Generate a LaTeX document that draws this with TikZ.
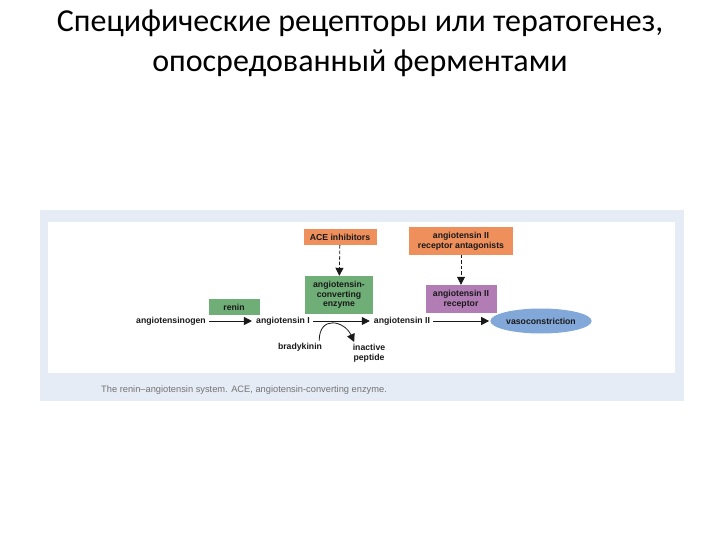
\documentclass[tikz,border=0pt]{standalone}
\usepackage{fontspec}
\setmainfont{Carlito}
\newfontfamily\diagfont{Liberation Sans}
\usetikzlibrary{arrows.meta, positioning, shapes.geometric}
\definecolor{drugorange}{HTML}{EE8F5C}
\definecolor{enzgreen}{HTML}{6FAE77}
\definecolor{recpurple}{HTML}{B27DB5}
\definecolor{vasoblue}{HTML}{82A8DA}
\definecolor{panelblue}{HTML}{E6ECF6}

\begin{document}
\begin{tikzpicture}[
      x=1pt, y=-1pt, >={Triangle[length=8pt, width=8pt]},
      lbl/.style={font=\diagfont\bfseries\fontsize{8.7}{9.6}\selectfont, text=black!90, align=center, inner sep=1pt},
      box/.style={lbl, rectangle},
      drug/.style={box, fill=drugorange},
      enz/.style={box, fill=enzgreen},
      line/.style={draw, thick, ->, color=black!90, shorten <=2pt, shorten >=3pt},
      inhib/.style={draw, thick, ->, color=black!90, dash pattern=on 3.5pt off 2pt}
    ]
    \useasboundingbox (0,0) rectangle (720,540);
    % Title
    \node[font=\fontsize{32}{40}\selectfont, align=center] (title) at (360,43)
      {Специфические рецепторы или тератогенез,\\опосредованный ферментами};

    % Panels
    \fill[panelblue] (40,210) rectangle (684,401);
    \fill[white] (48,222) rectangle (675,373);

    % Nodes
    \node[drug, minimum width=73pt, minimum height=16pt] (acei) at (340,237) {ACE inhibitors};
    \node[enz, minimum width=68pt, minimum height=38pt] (ace) at (339,295) {angiotensin-\\converting\\enzyme};
    \node[drug, minimum width=104pt, minimum height=27pt] (arb) at (461,241) {angiotensin II\\receptor antagonists};
    \node[box, fill=recpurple, minimum width=71pt, minimum height=28pt] (at2r) at (461,299) {angiotensin II\\receptor};
    \node[enz, minimum width=51pt, minimum height=16pt] (renin) at (234,307) {renin};
    \node[lbl] (agen) at (171,321) {angiotensinogen};
    \node[lbl] (ang1) at (283,321) {angiotensin I};
    \node[lbl] (ang2) at (402,321) {angiotensin II};
    \node[lbl, ellipse, fill=vasoblue, minimum width=94pt, minimum height=25pt] (vaso) at (541,321) {vasoconstriction};
    \node[lbl] (brady) at (300,347) {bradykinin};
    \node[lbl] (pept) at (369,353) {inactive\\peptide};

    % Pathway
    \draw[line] (agen) -- (ang1);
    \draw[line] (ang1) -- (ang2);
    \draw[line, shorten >=1pt] (ang2) -- (vaso);
    \draw[line, shorten <=0pt, shorten >=1pt] ([xshift=-4pt, yshift=1pt]brady.north east) .. controls +(0,-26) and +(-10,-22) .. ([xshift=3pt]pept.north west);

    % Blockers
    \draw[inhib] (acei) -- (ace);
    \draw[inhib] (arb) -- (at2r);

    % Caption
    \node[font=\diagfont\fontsize{9.3}{10}\selectfont, text=black!55, anchor=west, inner sep=0pt] (cap) at (101,390)
      {The renin–angiotensin system. ACE, angiotensin-converting enzyme.};
  \end{tikzpicture}
\end{document}
